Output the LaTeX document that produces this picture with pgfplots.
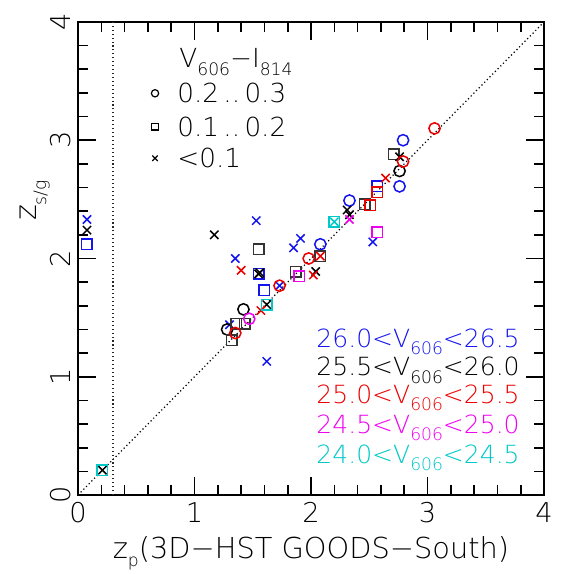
\documentclass[border=0pt]{standalone}
\usepackage{fontspec}
\IfFontExistsTF{DejaVu Sans ExtraLight}{\setmainfont{DejaVu Sans ExtraLight}}{\setmainfont{DejaVu Sans}}
\usepackage{pgfplots}
\pgfplotsset{compat=1.18}

\definecolor{pblue}{RGB}{20,20,240}
\definecolor{pred}{RGB}{235,0,0}
\definecolor{pmag}{RGB}{240,0,240}
\definecolor{pcyan}{RGB}{0,200,200}

\newcommand\sub[1]{\raisebox{-0.55ex}{\fontsize{8.5}{8.5}\selectfont #1}}

\pgfplotsset{
  ci/.style={only marks, mark=o, mark size=2.8pt, mark options={line width=0.75pt, solid}},
  sq/.style={only marks, mark=square, mark size=2.6pt, mark options={line width=0.75pt, solid}},
  cr/.style={only marks, mark=x, mark size=2.9pt, mark options={line width=0.75pt, solid}},
}

\begin{document}
\begin{tikzpicture}
% frame of the page: 574 px = 10 cm
\path[use as bounding box] (-1.359,-1.376) rectangle (8.641,8.624);
\begin{axis}[
  scale only axis,
  width=8.119cm, height=8.241cm,
  xmin=0, xmax=4, ymin=0, ymax=4,
  xtick={0,1,2,3,4}, ytick={0,1,2,3,4},
  minor tick num=4,
  tick align=inside,
  major tick length=0.31cm, minor tick length=0.17cm,
  axis line style={line width=1pt},
  every tick/.style={black, line width=0.8pt},
  /pgf/number format/assume math mode=true,
  ticklabel style={font=\fontsize{13.5}{13.5}\selectfont},
  yticklabel style={rotate=90, anchor=south},
  clip=false,
]
\addplot[black, line width=0.6pt, dash pattern=on 0.6pt off 1.3pt] coordinates {(0,0) (4,4)};
\addplot[black!85, line width=0.55pt, dash pattern=on 0.55pt off 1.4pt] coordinates {(0.3,0) (0.3,4)};

% 26.0 < V606 < 26.5
\addplot[pblue, ci] coordinates {(2.79,3.00) (2.76,2.61) (2.33,2.49) (2.08,2.12)};
\addplot[pblue, sq] coordinates {(0.077,2.12) (1.60,1.73) (2.57,2.61) (1.55,1.87)};
\addplot[pblue, cr] coordinates {(0.077,2.33) (1.53,2.32) (1.35,2.00) (1.85,2.09) (1.91,2.17)
  (2.53,2.14) (1.73,1.77) (1.62,1.13) (1.30,1.44)};

% 25.5 < V606 < 26.0
\addplot[black, ci] coordinates {(1.42,1.57) (1.28,1.40) (2.76,2.74)};
\addplot[black!80, sq] coordinates {(1.55,2.08) (1.87,1.89) (2.08,2.02) (1.36,1.45) (1.43,1.45)
  (1.32,1.31) (2.71,2.88) (2.46,2.46)};
\addplot[black, cr] coordinates {(0.077,2.24) (1.17,2.20) (1.55,1.87) (1.56,1.88) (2.04,1.89)
  (1.62,1.61) (2.76,2.86) (2.31,2.41) (2.33,2.37) (0.21,0.21)};

% 25.0 < V606 < 25.5
\addplot[pred, ci] coordinates {(3.06,3.10) (2.79,2.82) (1.98,2.00) (1.73,1.77) (1.35,1.37)};
\addplot[pred, sq] coordinates {(2.57,2.56) (2.51,2.45)};
\addplot[pred, cr] coordinates {(2.64,2.68) (2.08,2.02) (1.40,1.90) (2.02,1.86) (1.57,1.56)};

% 24.5 < V606 < 25.0
\addplot[pmag, ci] coordinates {(1.47,1.49)};
\addplot[pmag, sq] coordinates {(2.57,2.22) (1.90,1.85)};
\addplot[pmag, cr] coordinates {(2.33,2.33)};

% 24.0 < V606 < 24.5
\addplot[pcyan, sq] coordinates {(2.20,2.31) (1.62,1.61) (0.21,0.21)};
\addplot[pcyan, cr] coordinates {(2.20,2.31)};

% colour key V606-I814
\addplot[black, only marks, mark=o, mark size=1.8pt, mark options={line width=0.6pt}] coordinates {(0.661,3.397)};
\addplot[black, only marks, mark=square, mark size=1.7pt, mark options={line width=0.6pt}] coordinates {(0.661,3.115)};
\addplot[black, only marks, mark=x, mark size=1.9pt, mark options={line width=0.6pt}] coordinates {(0.661,2.847)};
\node[anchor=base west, inner sep=0pt, font=\fontsize{13}{13}\selectfont] at (axis cs:0.867,3.611) {V\sub{606}−I\sub{814}};
\node[anchor=west, inner sep=0pt, font=\fontsize{13}{13}\selectfont] at (axis cs:0.85,3.397) {0.2\,..\,0.3};
\node[anchor=west, inner sep=0pt, font=\fontsize{13}{13}\selectfont] at (axis cs:0.85,3.115) {0.1\,..\,0.2};
\node[anchor=west, inner sep=0pt, font=\fontsize{13}{13}\selectfont] at (axis cs:0.85,2.847) {<0.1};

% magnitude key
\node[anchor=base east, inner sep=0pt, text=pblue, font=\fontsize{12.4}{12.4}\selectfont] at (axis cs:3.794,1.25) {26.0<V\sub{606}<26.5};
\node[anchor=base east, inner sep=0pt, text=black, font=\fontsize{12.4}{12.4}\selectfont] at (axis cs:3.794,1.01) {25.5<V\sub{606}<26.0};
\node[anchor=base east, inner sep=0pt, text=pred, font=\fontsize{12.4}{12.4}\selectfont] at (axis cs:3.794,0.778) {25.0<V\sub{606}<25.5};
\node[anchor=base east, inner sep=0pt, text=pmag, font=\fontsize{12.4}{12.4}\selectfont] at (axis cs:3.794,0.524) {24.5<V\sub{606}<25.0};
\node[anchor=base east, inner sep=0pt, text=pcyan, font=\fontsize{12.4}{12.4}\selectfont] at (axis cs:3.794,0.27) {24.0<V\sub{606}<24.5};

% axis titles
\node[anchor=base, inner sep=0pt, font=\fontsize{14.3}{14.3}\selectfont] at (axis cs:2.0,-0.533) {z\sub{p}(3D−HST GOODS−South)};
\node[rotate=90, inner sep=0pt, font=\fontsize{15}{15}\selectfont] at (axis cs:-0.369,2.49) {z\sub{s/g}};
\end{axis}
\end{tikzpicture}
\end{document}
